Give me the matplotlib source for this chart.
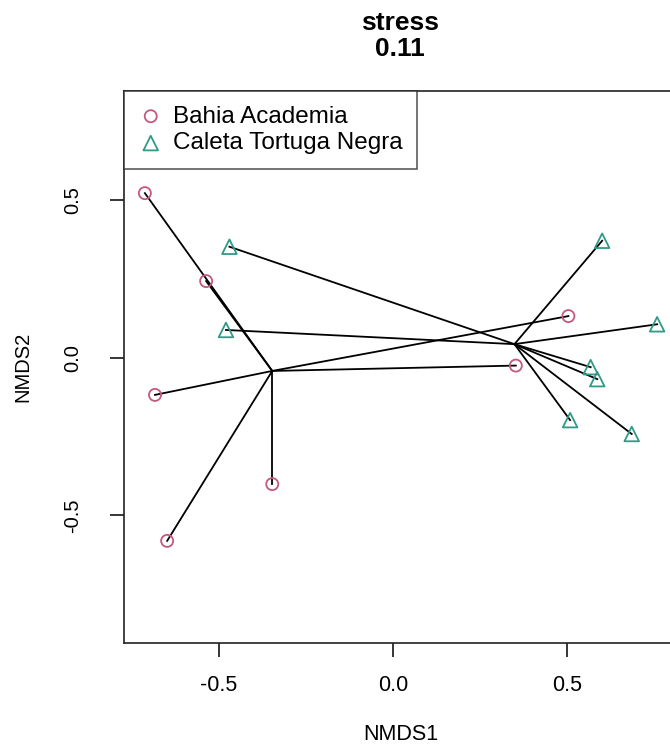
import matplotlib
matplotlib.use("Agg")
import matplotlib.pyplot as plt

# NMDS site scores
bahia_x = [-0.713, -0.537, -0.684, -0.347, -0.649, 0.353, 0.504]
bahia_y = [0.522, 0.243, -0.118, -0.401, -0.581, -0.025, 0.132]
bahia_centroid = (-0.347, -0.042)

caleta_x = [-0.470, -0.480, 0.601, 0.759, 0.568, 0.587, 0.509, 0.686]
caleta_y = [0.352, 0.088, 0.371, 0.106, -0.030, -0.068, -0.198, -0.242]
caleta_centroid = (0.349, 0.043)

groups = ["Bahia Academia", "Caleta Tortuga Negra"]
ticks = [-0.5, 0.0, 0.5]
tick_labels = ["-0.5", "0.0", "0.5"]
stress = "0.11"

plt.rcParams['font.family'] = ['Liberation Sans', 'DejaVu Sans']

pink = '#c4587e'
teal = '#2f9a86'

fig = plt.figure(figsize=(6.7, 7.47), dpi=100)
ax = fig.add_axes([124/670, 1-643/747, 554/670, 552/747])

# spider lines from centroid to each site
for x, y in zip(bahia_x, bahia_y):
    ax.plot([bahia_centroid[0], x], [bahia_centroid[1], y], color='black', lw=1.3, zorder=2)
for x, y in zip(caleta_x, caleta_y):
    ax.plot([caleta_centroid[0], x], [caleta_centroid[1], y], color='black', lw=1.3, zorder=2)

ax.scatter(bahia_x, bahia_y, s=75, marker='o', facecolors='none', edgecolors=pink,
           linewidths=1.3, zorder=3, label=groups[0])
ax.scatter(caleta_x, caleta_y, s=110, marker='^', facecolors='none', edgecolors=teal,
           linewidths=1.3, zorder=3, label=groups[1])

ax.set_xlim(-0.773, 0.819)
ax.set_ylim(-0.905, 0.846)

ax.set_xticks(ticks)
ax.set_xticklabels(tick_labels, fontsize=15.5)
ax.set_yticks(ticks)
ax.set_yticklabels(tick_labels, rotation=90, va='center', fontsize=14.5)
ax.tick_params(axis='both', direction='out', length=10, width=1.1, colors='black')
ax.tick_params(axis='x', pad=13)
ax.tick_params(axis='y', pad=20)

for sp in ax.spines.values():
    sp.set_linewidth(1.2)
    sp.set_color('#222222')

ax.set_xlabel("NMDS1", fontsize=15.5)
ax.set_ylabel("NMDS2", fontsize=14.5)
ax.xaxis.set_label_coords(0.5, -92/552)
ax.yaxis.set_label_coords(-101/554, 0.5)
ax.xaxis.label.set_va('center')
ax.yaxis.label.set_va('center')

leg = ax.legend(loc='upper left', bbox_to_anchor=(0, 1), borderaxespad=0, fontsize=17.5,
                frameon=True, fancybox=False, edgecolor='#222222', handletextpad=0.4,
                borderpad=0.6, labelspacing=0.2, handlelength=1.0)
leg.get_frame().set_linewidth(1.1)

fig.text(400/670, 1-23/747, "stress", ha='center', va='center', fontsize=19, fontweight='bold')
fig.text(400/670, 1-49/747, stress, ha='center', va='center', fontsize=19, fontweight='bold')

fig.savefig("out.png", dpi=100)
